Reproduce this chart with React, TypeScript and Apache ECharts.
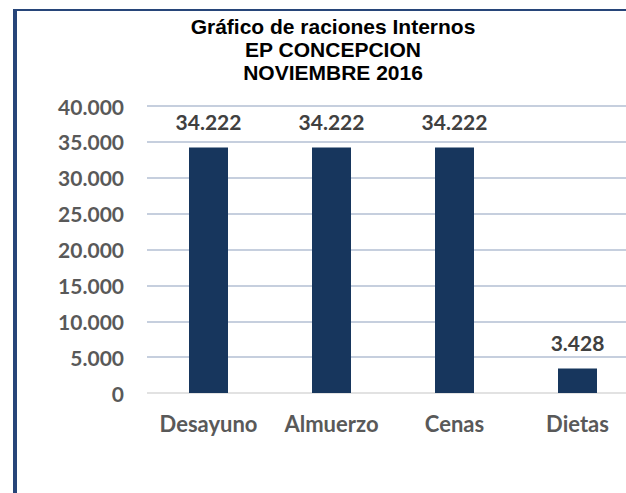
import React, { useEffect, useRef } from "react";
import * as echarts from "echarts";

const categories = ["Desayuno", "Almuerzo", "Cenas", "Dietas"];
const raciones = [34222, 34222, 34222, 3428];
const yMin = 0;
const yMax = 40000;
const yInterval = 5000;
const titleLines = ["Gráfico de raciones Internos", "EP CONCEPCION", "NOVIEMBRE 2016"];

const fmt = (n: number) => String(n).replace(/\B(?=(\d{3})+(?!\d))/g, ".");

export default function App() {
  const ref = useRef<HTMLDivElement>(null);
  useEffect(() => {
    if (!ref.current) return;
    const chart = echarts.init(ref.current, null, { renderer: "svg" });
    const splitColors = ["#D9D9D9"];
    for (let i = 0; i < 8; i++) splitColors.push("#B3BFD3");
    chart.setOption({
      animation: false,
      backgroundColor: "#ffffff",
      title: {
        text: titleLines.join("\n"),
        left: 333,
        textAlign: "center",
        top: 15,
        padding: 0,
        textStyle: {
          fontFamily: "Liberation Sans",
          fontWeight: "bold",
          fontSize: 21,
          lineHeight: 23,
          color: "#000000",
        },
      },
      graphic: [
        {
          type: "line",
          shape: { x1: 13, y1: 10, x2: 640, y2: 10 },
          style: { stroke: "#274579", lineWidth: 2 },
        },
        {
          type: "line",
          shape: { x1: 15, y1: 9, x2: 15, y2: 493 },
          style: { stroke: "#274579", lineWidth: 4 },
        },
      ],
      grid: { left: 147, right: 0, top: 106, bottom: 100, containLabel: false },
      xAxis: {
        type: "category",
        data: categories,
        axisLine: { show: false },
        axisTick: { show: false },
        axisLabel: {
          interval: 0,
          margin: 19,
          fontFamily: "Lato",
          fontWeight: "bold",
          fontSize: 22,
          color: "#595959",
        },
      },
      yAxis: {
        type: "value",
        min: yMin,
        max: yMax,
        interval: yInterval,
        axisLine: { show: false },
        axisTick: { show: false },
        splitLine: { lineStyle: { color: splitColors, width: 1.5 } },
        axisLabel: {
          margin: 23,
          fontFamily: "Lato",
          fontWeight: "bold",
          fontSize: 21,
          color: "#595959",
          formatter: (v: number) => fmt(v),
        },
      },
      series: [
        {
          type: "bar",
          data: raciones,
          barWidth: 39,
          itemStyle: { color: "#17365D" },
          label: {
            show: true,
            position: "top",
            distance: 15,
            fontFamily: "Lato",
            fontWeight: "bold",
            fontSize: 21,
            color: "#404040",
            formatter: (p: any) => fmt(p.value),
          },
        },
      ],
    });
    return () => chart.dispose();
  }, []);
  return (
    <div
      style={{ position: "fixed", left: 0, top: 0, width: 626, height: 493, overflow: "hidden" }}
    >
      <div ref={ref} style={{ width: 639, height: 493 }} />
    </div>
  );
}
